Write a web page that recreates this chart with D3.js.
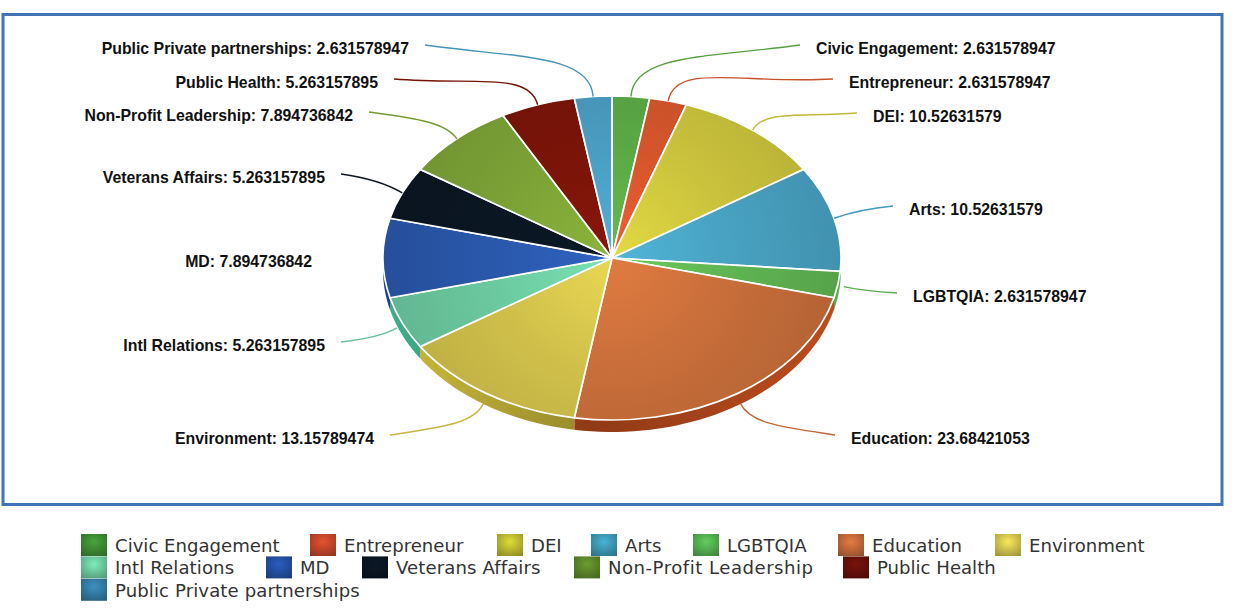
<!DOCTYPE html>
<html><head><meta charset="utf-8">
<script src="https://cdn.jsdelivr.net/npm/d3@7/dist/d3.min.js"></script>
<style>html,body{margin:0;padding:0;background:#fff}svg{display:block}</style>
</head><body><svg id="c" width="1234" height="612"></svg>
<script>
const categories = ["Civic Engagement","Entrepreneur","DEI","Arts","LGBTQIA","Education","Environment","Intl Relations","MD","Veterans Affairs","Non-Profit Leadership","Public Health","Public Private partnerships"];
const values = [2.631578947,2.631578947,10.52631579,10.52631579,2.631578947,23.68421053,13.15789474,5.263157895,7.894736842,5.263157895,7.894736842,5.263157895,2.631578947];
const valueLabels = ["2.631578947","2.631578947","10.52631579","10.52631579","2.631578947","23.68421053","13.15789474","5.263157895","7.894736842","5.263157895","7.894736842","5.263157895","2.631578947"];
const colors = ["#5aa845","#d4552b","#cbc33c","#48a2c2","#5fb552","#c86e3a","#d0c04a","#6ccaa0","#2a58ac","#0a1622","#7ca236","#7a1409","#4a9cc0"];
const wallColors = ["#5aa845","#d4552b","#cbc33c","#48a2c2","#5fb552","#c8501f","#d0be3c","#3fb08a","#1a3f98","#0a1622","#7ca236","#7a1409","#4a9cc0"];
const legendColors = ["#3f8f35","#c9482a","#c4c032","#3f9dbb","#55b552","#c96c3b","#d8cc50","#6fd0a4","#2452a8","#0a1622","#5f8a2a","#6a100a","#347fa8"];

// layout only
const frame = {x:3, y:14.5, w:1219, h:490};
const pie = {cx:612, cy:258, rx:229, ry:162, depth:12};
const labelRows = [48,82,116,209,296,438,438,345,261,177,115,82,48];
const labelEdges = [816,849,873,909,913,851,374,325,312,325,353,378,409];
const labelSides = ["r","r","r","r","r","r","l","l","l","l","l","l","l"];
const noLeader = ["MD"];
const legendRows = [0,0,0,0,0,0,0,1,1,1,1,1,2];
const legendLefts = [81,310,497,591,693,838,995,81,266,362,574,843,81];
const legendSpacing = [0,0,0,0,0,0,0,0.1,0,0.1,0.5,0,0.1];
const legendBox = {y:534, rowH:22.4, swatchW:26, swatchH:22, textGap:8};

const svg = d3.select("#c");
const defs = svg.append("defs");
svg.append("rect").attr("x",frame.x).attr("y",frame.y).attr("width",frame.w).attr("height",frame.h)
  .attr("fill","#fff").attr("stroke","#3f74b5").attr("stroke-width",3);

const arcs = d3.pie().value(d=>d).sort(null)(values);
const shade = (c,k)=>{const h=d3.rgb(c);return d3.rgb(Math.min(255,h.r*k),Math.min(255,h.g*k),Math.min(255,h.b*k)).formatHex();};
const px = a=>pie.cx+pie.rx*Math.sin(a), py = a=>pie.cy-pie.ry*Math.cos(a);

colors.forEach((c,i)=>{
  const g = defs.append("radialGradient").attr("id","top"+i).attr("gradientUnits","userSpaceOnUse")
    .attr("cx",0).attr("cy",0).attr("r",pie.rx).attr("gradientTransform",`scale(1,${pie.rx/pie.ry})`);
  g.append("stop").attr("offset",0).attr("stop-color",shade(c,1.12));
  g.append("stop").attr("offset",0.5).attr("stop-color",c);
  g.append("stop").attr("offset",1).attr("stop-color",shade(c,0.9));
  const w = defs.append("linearGradient").attr("id","wall"+i).attr("gradientUnits","userSpaceOnUse")
    .attr("x1",pie.cx-pie.rx).attr("x2",pie.cx+pie.rx).attr("y1",0).attr("y2",0);
  w.append("stop").attr("offset",0).attr("stop-color",shade(wallColors[i],1.0));
  w.append("stop").attr("offset",0.45).attr("stop-color",shade(wallColors[i],0.72));
  w.append("stop").attr("offset",1).attr("stop-color",shade(wallColors[i],0.95));
  const s = defs.append("radialGradient").attr("id","sw"+i).attr("cy",0.35).attr("r",0.75);
  s.append("stop").attr("offset",0).attr("stop-color",shade(legendColors[i],1.14));
  s.append("stop").attr("offset",1).attr("stop-color",shade(legendColors[i],0.74));
});

const wall = svg.append("g");
arcs.forEach((d,i)=>{
  const a0=Math.max(d.startAngle,Math.PI/2), a1=Math.min(d.endAngle,Math.PI*1.5);
  if(a1<=a0) return;
  const angles=d3.range(0,41).map(k=>a0+(a1-a0)*k/40);
  const front=angles.map(a=>[px(a),py(a)]);
  const back=angles.slice().reverse().map(a=>[px(a),py(a)+pie.depth]);
  wall.append("path").attr("d",d3.line()(front.concat(back))+"Z").attr("fill",`url(#wall${i})`);
});

const arcGen = d3.arc().innerRadius(0).outerRadius(pie.rx);
svg.append("g").attr("transform",`translate(${pie.cx},${pie.cy}) scale(1,${pie.ry/pie.rx})`)
  .selectAll("path").data(arcs).join("path")
  .attr("d",arcGen).attr("fill",(d,i)=>`url(#top${i})`)
  .attr("stroke","#fff").attr("stroke-width",1.7).attr("vector-effect","non-scaling-stroke").attr("stroke-linejoin","round");

const lab = svg.append("g").attr("font-family","'Liberation Sans',Arial,sans-serif").attr("font-weight","bold").attr("font-size",15.85).attr("fill","#111");
arcs.forEach((d,i)=>{
  const right = labelSides[i]==="r";
  lab.append("text").attr("x",labelEdges[i]).attr("y",labelRows[i]+5.6)
    .attr("text-anchor",right?"start":"end").text(categories[i]+": "+valueLabels[i]);
  if(noLeader.includes(categories[i])) return;
  const mid=(d.startAngle+d.endAngle)/2;
  const sin=Math.sin(mid), cos=Math.cos(mid), isFront=cos<0;
  const ex=px(mid)+(isFront?6*sin:0), ey=py(mid)+(isFront?pie.depth*Math.abs(cos):0);
  const lx=labelEdges[i]+(right?-16:16), ly=labelRows[i]-3;
  const reach=Math.hypot(ex-lx,ey-ly)*0.22;
  const p=d3.path();
  p.moveTo(lx,ly);
  p.bezierCurveTo(lx+(ex-lx)*0.55,ly+(ey-ly)*0.25,ex+reach*sin*0.8,ey-reach*cos*1.1,ex,ey);
  lab.append("path").attr("d",p.toString()).attr("fill","none")
    .attr("stroke",shade(colors[i],0.95)).attr("stroke-width",1.4);
});

const leg = svg.append("g").attr("font-family","'DejaVu Sans',Verdana,sans-serif").attr("font-size",18.1).attr("fill","#333");
categories.forEach((c,i)=>{
  const x=legendLefts[i], y=legendBox.y+legendRows[i]*legendBox.rowH;
  leg.append("rect").attr("x",x).attr("y",y).attr("width",legendBox.swatchW).attr("height",legendBox.swatchH)
    .attr("fill",`url(#sw${i})`);
  leg.append("text").text(c).attr("x",x+legendBox.swatchW+legendBox.textGap).attr("y",y+18)
    .attr("letter-spacing",legendSpacing[i]);
});
</script></body></html>
